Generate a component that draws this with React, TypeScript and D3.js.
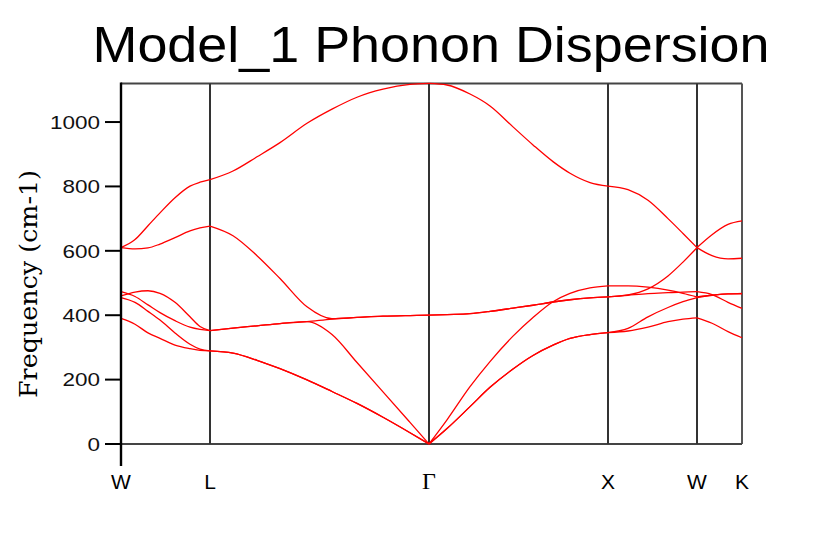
import React from "react";
import * as d3 from "d3";

// k-path positions (arbitrary path units) of the sampled points
const kPoints = [
  0, 0.14, 0.27, 0.39, 0.54, 0.69, 0.79, 0.89,
  1.12, 1.36, 1.59, 1.86, 2.11, 2.36, 2.62, 2.89, 3.08,
  3.26, 3.49, 3.69, 3.92, 4.12, 4.32, 4.49, 4.69, 4.87,
  5.07, 5.27, 5.47, 5.62, 5.76,
  5.91, 6.07, 6.21,
];

// high-symmetry points: labels, k positions and index into kPoints
const symLabels = ["W", "L", "Γ", "X", "W", "K"];
const symK = [0, 0.89, 3.08, 4.87, 5.76, 6.21];
const symIndex = [0, 7, 16, 25, 30, 33];

// phonon branches (cm-1)
const band1 = [390, 372, 345, 328, 307, 296, 291, 289, 282, 260, 234, 199, 163, 126, 83, 35, 0, 48, 116, 176, 233, 275, 307, 328, 340, 346, 351, 363, 380, 388, 392, 375, 349, 330];
const band2 = [455, 440, 412, 385, 345, 310, 295, 289, 282, 260, 234, 199, 163, 126, 83, 35, 0, 48, 116, 176, 233, 275, 307, 328, 340, 346, 359, 395, 424, 442, 455, 462, 466, 466];
const band3 = [473, 458, 432, 408, 383, 363, 356, 352, 360, 367, 374, 380, 340, 253, 162, 67, 0, 75, 178, 256, 335, 393, 442, 468, 485, 491, 491, 487, 478, 468, 457, 462, 466, 468];
const band4 = [460, 472, 476, 468, 440, 395, 365, 352, 360, 367, 374, 380, 388, 393, 397, 399, 400, 402, 405, 412, 422, 431, 441, 448, 454, 457, 462, 467, 470, 472, 473, 464, 440, 421];
const band5 = [610, 606, 609, 621, 641, 662, 671, 677, 647, 585, 514, 426, 389, 393, 397, 399, 400, 402, 405, 412, 422, 431, 441, 448, 454, 457, 463, 482, 522, 565, 610, 585, 575, 577];
const band6 = [610, 635, 678, 718, 765, 801, 813, 821, 848, 892, 936, 996, 1040, 1077, 1102, 1117, 1120, 1115, 1087, 1050, 985, 929, 877, 841, 812, 801, 790, 757, 700, 654, 610, 650, 682, 693];
const bands = [band1, band2, band3, band4, band5, band6];

const yTicks = [0, 200, 400, 600, 800, 1000];
const title = "Model_1 Phonon Dispersion";
const yLabel = "Frequency (cm-1)";

const W = 822;
const H = 554;
const left = 121;
const right = 742;
const top = 83.4;
const bottom = 444;

export default function App() {
  const x = d3.scaleLinear().domain([0, symK[symK.length - 1]]).range([left, right]);
  const y = d3.scaleLinear().domain([0, 1120]).range([bottom, top]);

  const line = d3
    .line<[number, number]>()
    .x((d) => x(d[0]))
    .y((d) => y(d[1]))
    .curve(d3.curveMonotoneX);

  const paths: string[] = [];
  bands.forEach((b) => {
    for (let s = 0; s < symIndex.length - 1; s++) {
      const pts: [number, number][] = [];
      for (let i = symIndex[s]; i <= symIndex[s + 1]; i++) pts.push([kPoints[i], b[i]]);
      paths.push(line(pts) || "");
    }
  });

  const sans = "'Liberation Sans', Arial, Helvetica, sans-serif";

  return (
    <svg
      width={W}
      height={H}
      style={{ position: "fixed", left: 0, top: 0, background: "#fff" }}
    >
      <rect x={0} y={0} width={W} height={H} fill="#fff" />
      <text
        x={431}
        y={62}
        textAnchor="middle"
        fontFamily={sans}
        fontSize={50}
        textLength={677}
        lengthAdjust="spacingAndGlyphs"
        fill="#000"
      >
        {title}
      </text>

      {/* y label */}
      <text
        transform={`translate(37,${284}) rotate(-90)`}
        textAnchor="middle"
        fontFamily="'DejaVu Serif', 'Liberation Serif', serif"
        fontSize={24}
        textLength={228}
        lengthAdjust="spacingAndGlyphs"
        fill="#000"
      >
        {yLabel}
      </text>

      {/* frame */}
      <line x1={left} x2={right} y1={top} y2={top} stroke="#444" strokeWidth={2} />
      <line x1={right} x2={right} y1={top} y2={bottom} stroke="#555" strokeWidth={2} />
      <line x1={left} x2={right} y1={bottom} y2={bottom} stroke="#444" strokeWidth={2.2} />

      {/* high symmetry lines */}
      {symK.slice(1, -1).map((k, i) => (
        <line key={i} x1={x(k)} x2={x(k)} y1={top} y2={bottom} stroke="#333" strokeWidth={2} />
      ))}

      {/* bands */}
      {paths.map((d, i) => (
        <path key={i} d={d} fill="none" stroke="#ff0000" strokeWidth={1.3} />
      ))}

      {/* left axis */}
      <line x1={left} x2={left} y1={top - 1} y2={466} stroke="#000" strokeWidth={2.4} />
      {yTicks.map((t) => (
        <g key={t}>
          <line x1={105} x2={left} y1={y(t)} y2={y(t)} stroke="#000" strokeWidth={2} />
          <text
            x={100}
            y={y(t)}
            dy="0.36em"
            textAnchor="end"
            fontFamily={sans}
            fontSize={19}
            textLength={String(t).length * 12.5}
            lengthAdjust="spacingAndGlyphs"
            fill="#111"
          >
            {t}
          </text>
        </g>
      ))}

      {/* x labels */}
      {symLabels.map((l, i) => (
        <text
          key={i}
          x={x(symK[i])}
          y={489}
          textAnchor="middle"
          fontFamily={l === "Γ" ? "'Liberation Serif', serif" : sans}
          fontSize={l === "Γ" ? 24 : 21}
          fill="#000"
        >
          {l}
        </text>
      ))}
    </svg>
  );
}
